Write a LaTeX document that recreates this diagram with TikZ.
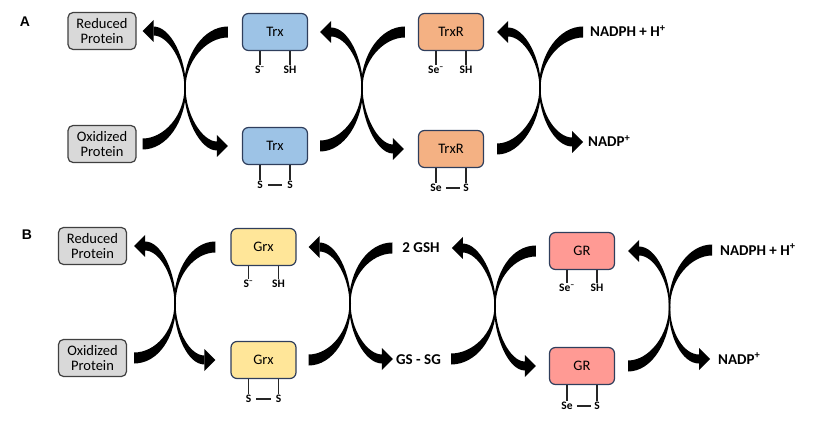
\documentclass[tikz,border=0pt]{standalone}
\usepackage{fontspec}
\setmainfont{Carlito}
\newfontfamily\headfont{Liberation Sans}
\usepackage{xcolor}
\usepackage{tikz}
\usetikzlibrary{positioning}

\definecolor{protfill}{HTML}{D9D9D9}
\definecolor{protline}{HTML}{404040}
\definecolor{enzline}{HTML}{2F3E5C}
\definecolor{trxfill}{HTML}{9DC3E6}
\definecolor{trxrfill}{HTML}{F4B183}
\definecolor{grxfill}{HTML}{FFE699}
\definecolor{grfill}{HTML}{FF9A94}

% two thiol stubs under an enzyme box
\newcommand\stubs[4]{%
  \node (#1l) [lab, below=#4 of #1.south, xshift=-15pt] {#2};
  \node (#1r) [lab, below=#4 of #1.south, xshift=15pt] {#3};
  \draw [stub] (#1l.north) -- (#1l.north |- #1.south);
  \draw [stub] (#1r.north) -- (#1r.north |- #1.south);}

% tapered curved arrow: tail, tail gap, crossing, head, head gap, side (1 or -1)
\newcommand\bendarrow[6]{%
  \fill ([shift={({#2},{-5.5*(#6)})}]#1)
    .. controls +({24*(#6)},0) and +(0,{-34*(#6)}) .. ([xshift={#6}]#3)
    .. controls +(0,{30*(#6)}) and +({17*(#6)},0) .. ([shift={({#5+11*(#6)},{4.5*(#6)})}]#4)
    -- ([shift={({#5+11*(#6)},{-4.5*(#6)})}]#4)
    .. controls +({15*(#6)},0) and +(0,{26*(#6)}) .. ([xshift={-0.6*(#6)}]#3)
    .. controls +(0,{-28*(#6)}) and +({21*(#6)},0) .. ([shift={({#2},{5.5*(#6)})}]#1) -- cycle;
  \fill ([xshift={#5}]#4) -- ([shift={({#5+11*(#6)},{11*(#6)})}]#4)
    -- ([shift={({#5+11*(#6)},{-11*(#6)})}]#4) -- cycle;}

\newcommand\minus{\textsuperscript{–}}

\begin{document}
\begin{tikzpicture}[x=1pt, y=1pt,
    prot/.style = {draw=protline, fill=protfill, line width=1.2pt,
                   rounded corners=5pt, minimum width=68pt, minimum height=37pt,
                   inner sep=0pt, align=center, font=\fontsize{14.5}{15}\selectfont},
    enz/.style = {draw=enzline, line width=1.2pt, rounded corners=6pt,
                  minimum width=65pt, minimum height=37pt, inner sep=0pt,
                  font=\fontsize{14.5}{16}\selectfont},
    mol/.style = {inner sep=0pt, text height=10pt, text depth=0pt,
                  font=\bfseries\fontsize{15}{17}\selectfont},
    lab/.style = {inner sep=1pt, text height=7.5pt, text depth=0pt,
                  font=\bfseries\fontsize{11.5}{12}\selectfont},
    stub/.style = {line width=1.3pt, black!85},
    panel/.style = {font=\headfont\bfseries\fontsize{14}{16}\selectfont}]

  \useasboundingbox (0,0) rectangle (815,-433);

  % A: thioredoxin system
  \node (labA) at (25,-22) [panel] {A};
  \node (redA) at (102,-31) [prot] {Reduced\\Protein};
  \node (oxA) at (102,-144) [prot] {Oxidized\\Protein};
  \node (trxA) at (275,-32) [enz, fill=trxfill] {Trx};
  \node (trxoA) at (275,-146) [enz, fill=trxfill] {Trx};
  \node (trxrA) at (451,-32) [enz, fill=trxrfill] {TrxR};
  \node (trxroA) at (451,-149) [enz, fill=trxrfill] {TrxR};
  \node (nadphA) at (590,-32) [mol, anchor=west] {NADPH + H\textsuperscript{+}};
  \node (nadpA) at (588,-142) [mol, anchor=west] {NADP\textsuperscript{+}};

  \stubs{trxA}{S\minus}{SH}{14pt}
  \stubs{trxoA}{S}{S}{15pt}
  \draw [stub, shorten <=4pt, shorten >=4pt] (trxoAl) -- (trxoAr);
  \stubs{trxrA}{Se\minus}{SH}{14pt}
  \stubs{trxroA}{Se}{S}{15pt}
  \draw [stub, shorten <=3pt, shorten >=2pt] (trxroAl) -- (trxroAr);

  \coordinate (xA1) at (185,-88);
  \coordinate (xA2) at (362,-88);
  \coordinate (xA3) at (540,-88);

  \bendarrow{oxA.east}{6}{xA1}{redA.east}{6}{1}
  \bendarrow{trxA.west}{-14}{xA1}{trxoA.west}{-14}{-1}
  \bendarrow{trxoA.east}{12}{xA2}{trxA.east}{12}{1}
  \bendarrow{trxrA.west}{-13}{xA2}{trxroA.west}{-14}{-1}
  \bendarrow{trxroA.east}{13}{xA3}{trxrA.east}{13}{1}
  \bendarrow{nadphA.west}{-7}{xA3}{nadpA.west}{-5}{-1}

  % B: glutaredoxin system
  \node (labB) at (27,-235) [panel] {B};
  \node (redB) at (92.5,-246) [prot] {Reduced\\Protein};
  \node (oxB) at (92.5,-358) [prot] {Oxidized\\Protein};
  \node (grxB) at (263.5,-247) [enz, fill=grxfill] {Grx};
  \node (grxoB) at (263.5,-360) [enz, fill=grxfill] {Grx};
  \node (gshB) at (421,-248) [mol] {2 GSH};
  \node (gssgB) at (418.5,-359) [mol] {GS - SG};
  \node (grB) at (582,-251) [enz, fill=grfill] {GR};
  \node (groB) at (582,-366) [enz, fill=grfill] {GR};
  \node (nadphB) at (720,-250) [mol, anchor=west] {NADPH + H\textsuperscript{+}};
  \node (nadpB) at (718,-359) [mol, anchor=west] {NADP\textsuperscript{+}};

  \stubs{grxB}{S\minus}{SH}{13pt}
  \stubs{grxoB}{S}{S}{15pt}
  \draw [stub, shorten <=4pt, shorten >=4pt] (grxoBl) -- (grxoBr);
  \stubs{grB}{Se\minus}{SH}{13pt}
  \stubs{groB}{Se}{S}{16pt}
  \draw [stub, shorten <=3pt, shorten >=2pt] (groBl) -- (groBr);

  \coordinate (xB1) at (175,-303.5);
  \coordinate (xB2) at (350,-303.5);
  \coordinate (xB3) at (495,-306);
  \coordinate (xB4) at (669.5,-307);

  \bendarrow{oxB.east}{7}{xB1}{redB.east}{7}{1}
  \bendarrow{grxB.west}{-15}{xB1}{grxoB.west}{-15}{-1}
  \bendarrow{grxoB.east}{12}{xB2}{grxB.east}{12}{1}
  \bendarrow{gshB.west}{-10}{xB2}{gssgB.west}{-3}{-1}
  \bendarrow{gssgB.east}{10}{xB3}{gshB.east}{12}{1}
  \bendarrow{grB.west}{-13}{xB3}{groB.west}{-13}{-1}
  \bendarrow{groB.east}{13}{xB4}{grB.east}{13}{1}
  \bendarrow{nadphB.west}{-8}{xB4}{nadpB.west}{-8}{-1}
\end{tikzpicture}
\end{document}
